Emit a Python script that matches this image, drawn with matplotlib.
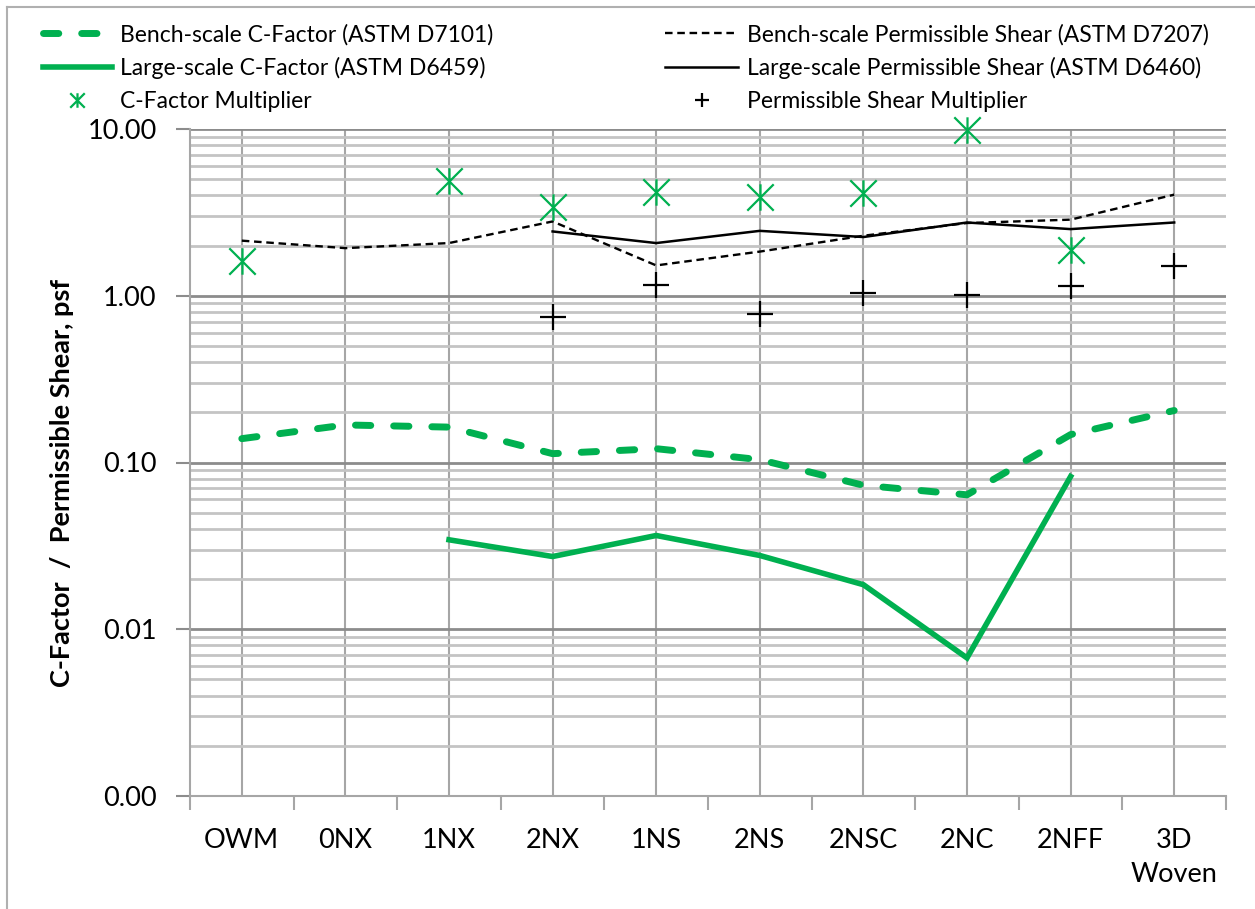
import numpy as np
import matplotlib
matplotlib.use("Agg")
import matplotlib.pyplot as plt
from matplotlib.path import Path
from matplotlib.lines import Line2D
from matplotlib.ticker import FixedLocator, FuncFormatter, LogLocator, NullFormatter

plt.rcParams['font.family'] = ['Lato', 'DejaVu Sans']

categories = ['OWM', '0NX', '1NX', '2NX', '1NS', '2NS', '2NSC', '2NC', '2NFF', '3D\nWoven']

nan = np.nan
bench_c = [0.139, 0.168, 0.163, 0.113, 0.121, 0.104, 0.073, 0.064, 0.147, 0.205]
large_c = [nan, nan, 0.0344, 0.0273, 0.0365, 0.0277, 0.0185, 0.00673, 0.0824, nan]
bench_ps = [2.14, 1.93, 2.07, 2.79, 1.52, 1.84, 2.29, 2.73, 2.86, 4.04]
large_ps = [nan, nan, nan, 2.43, 2.07, 2.45, 2.25, 2.75, 2.51, 2.75]
c_mult = [1.61, nan, 4.85, 3.41, 4.17, 3.91, 4.13, 9.8, 1.89, nan]
ps_mult = [nan, nan, nan, 0.745, 1.16, 0.777, 1.04, 1.01, 1.15, 1.50]

green = '#00B050'

# excel style star: X with a vertical bar
star = Path([(-1, -1), (1, 1), (-1, 1), (1, -1), (0, -1), (0, 1)],
            [Path.MOVETO, Path.LINETO, Path.MOVETO, Path.LINETO, Path.MOVETO, Path.LINETO])

fig = plt.figure(figsize=(12.55, 9.09), dpi=100)
ax = fig.add_axes([190 / 1255, 1 - 796 / 909, 1036 / 1255, 667 / 909])

x = np.arange(len(categories))

l1, = ax.plot(x, bench_c, color=green, lw=5, dashes=(2.2, 3.3), dash_capstyle='round',
              label='Bench-scale C-Factor (ASTM D7101)', zorder=4)
l2, = ax.plot(x, large_c, color=green, lw=4, solid_joinstyle='miter',
              label='Large-scale C-Factor (ASTM D6459)', zorder=4)
l3, = ax.plot(x, c_mult, ls='none', marker=star, ms=19, mew=1.6, mec=green, mfc='none',
              label='C-Factor Multiplier', zorder=5, clip_on=False)
l4, = ax.plot(x, bench_ps, color='black', lw=1.7, dashes=(3.2, 2.0),
              label='Bench-scale Permissible Shear (ASTM D7207)', zorder=4)
l5, = ax.plot(x, large_ps, color='black', lw=1.8,
              label='Large-scale Permissible Shear (ASTM D6460)', zorder=4)
l6, = ax.plot(x, ps_mult, ls='none', marker='+', ms=19, mew=1.6, color='black',
              label='Permissible Shear Multiplier', zorder=5)

ax.set_yscale('log')
ax.set_ylim(0.001, 10)
ax.set_xlim(-0.5, len(categories) - 0.5)

ax.yaxis.set_major_locator(FixedLocator([0.001, 0.01, 0.1, 1, 10]))
ax.yaxis.set_major_formatter(FuncFormatter(lambda v, p: '%.2f' % v))
ax.yaxis.set_minor_locator(LogLocator(base=10, subs=np.arange(2, 10), numticks=20))
ax.yaxis.set_minor_formatter(NullFormatter())

ax.set_xticks(x)
ax.set_xticklabels(categories, linespacing=1.45)
ax.set_xticks(np.arange(-0.5, len(categories)), minor=True)

ax.tick_params(axis='x', which='major', length=0, pad=23, labelsize=19.5)
ax.tick_params(axis='x', which='minor', length=10, width=1.5, color='#a6a6a6', direction='out')
ax.tick_params(axis='y', which='major', length=10, width=1.5, color='#8c8c8c', pad=14, labelsize=19.5)
ax.tick_params(axis='y', which='minor', length=0)

ax.grid(True, axis='x', which='major', color='#a6a6a6', lw=1.5, zorder=1)
ax.grid(True, axis='y', which='major', color='#8c8c8c', lw=2, zorder=1)
ax.grid(True, axis='y', which='minor', color='#c4c4c4', lw=2, zorder=1)
ax.set_axisbelow(True)

for s in ['top', 'right']:
    ax.spines[s].set_visible(False)
for s in ['left', 'bottom']:
    ax.spines[s].set_color('#a6a6a6')
    ax.spines[s].set_linewidth(1.5)

fig.text(62 / 1255, 1 - 483 / 909, 'C-Factor  /  Permissible Shear, psf', rotation=90,
         fontsize=19.5, fontweight='bold', ha='center', va='center')

leg1 = fig.legend(handles=[l1, l2, l3], loc='upper left', bbox_to_anchor=(43 / 1255, 1 - 24 / 909),
                  frameon=False, fontsize=16.5, handlelength=3.0, handletextpad=0.38,
                  labelspacing=0.5, borderpad=0, borderaxespad=0, markerscale=0.55)
leg2 = fig.legend(handles=[l4, l5, l6], loc='upper left', bbox_to_anchor=(665 / 1255, 1 - 24 / 909),
                  frameon=False, fontsize=16.5, handlelength=3.2, handletextpad=0.38,
                  labelspacing=0.5, borderpad=0, borderaxespad=0, markerscale=0.55)

# outer chart border
fig.add_artist(Line2D([7 / 1255, 7 / 1255], [0, 1 - 7 / 909], transform=fig.transFigure,
                      color='#b0b0b0', lw=1.5))
fig.add_artist(Line2D([7 / 1255, 1], [1 - 7 / 909, 1 - 7 / 909], transform=fig.transFigure,
                      color='#b0b0b0', lw=1.5))

fig.savefig('out.png', dpi=100)
